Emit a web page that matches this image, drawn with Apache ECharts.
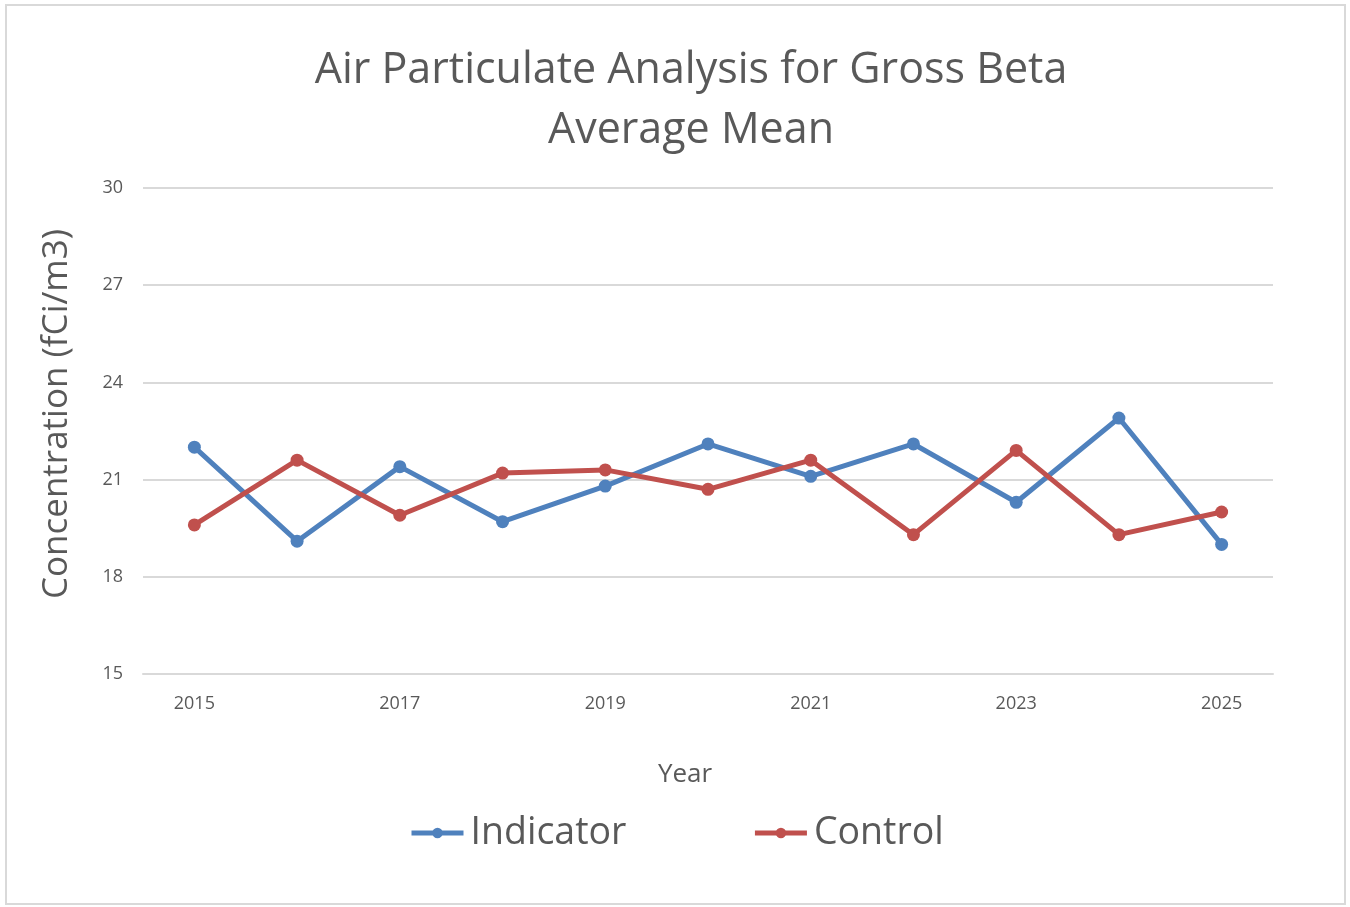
<!DOCTYPE html>
<html>
<head>
<meta charset="utf-8">
<script src="https://cdn.jsdelivr.net/npm/echarts@6/dist/echarts.min.js"></script>
<style>
  html, body { margin: 0; padding: 0; background: #fff; }
  #frame {
    position: absolute; left: 5px; top: 4px; width: 1341px; height: 901px;
    border: 2px solid #d9d9d9; box-sizing: border-box;
  }
  #chart { position: absolute; left: 0; top: 0; width: 1350px; height: 907px; }
</style>
</head>
<body>
<div id="frame"></div>
<div id="chart"></div>
<script>
const years = ['2015', '2016', '2017', '2018', '2019', '2020', '2021', '2022', '2023', '2024', '2025']
const indicator = [22.0, 19.1, 21.4, 19.7, 20.8, 22.1, 21.1, 22.1, 20.3, 22.9, 19.0]
const control = [19.6, 21.6, 19.9, 21.2, 21.3, 20.7, 21.6, 19.3, 21.9, 19.3, 20.0]

const font = '"Open Sans", "Liberation Sans", sans-serif'
const textColor = '#595959'

const chart = echarts.init(document.getElementById('chart'), null, { renderer: 'canvas' })

function lineSeries(name, data, color) {
  return {
    name,
    type: 'line',
    data,
    symbol: 'circle',
    symbolSize: 13,
    lineStyle: { color, width: 5 },
    itemStyle: { color },
    emphasis: { disabled: true },
  }
}

chart.setOption({
  backgroundColor: 'transparent',
  animation: false,
  textStyle: { fontFamily: font },
  title: {
    text: 'Air Particulate Analysis for Gross Beta\nAverage Mean',
    left: 686,
    textAlign: 'center',
    top: 36,
    textStyle: { fontFamily: font, fontSize: 43, fontWeight: 'normal', color: textColor, lineHeight: 60 },
  },
  grid: { left: 143, right: 77, top: 188, bottom: 233 },
  legend: {
    bottom: 50,
    left: 404,
    itemGap: 126,
    itemWidth: 52,
    itemHeight: 13,
    lineStyle: { width: 5 },
    textStyle: { fontFamily: font, fontSize: 37.5, color: textColor, padding: [0, 0, 0, 2] },
    data: ['Indicator', 'Control'],
  },
  xAxis: {
    type: 'category',
    data: years,
    name: 'Year',
    nameLocation: 'middle',
    nameGap: 88,
    nameTextStyle: { fontFamily: font, fontSize: 26, color: textColor, padding: [0, 46, 0, 0] },
    axisLine: { lineStyle: { color: '#d9d9d9', width: 2 } },
    axisTick: { interval: 4, length: 7, lineStyle: { color: '#d9d9d9', width: 2 } },
    axisLabel: { interval: 1, margin: 21, fontSize: 18, color: textColor },
  },
  yAxis: {
    type: 'value',
    min: 15,
    max: 30,
    interval: 3,
    name: 'Concentration (fCi/m3)',
    nameLocation: 'middle',
    nameGap: 68,
    nameTextStyle: { fontFamily: font, fontSize: 35, color: textColor, padding: [0, 0, 0, 34] },
    axisLine: { show: false },
    axisTick: { show: false },
    axisLabel: { margin: 20, fontSize: 18, color: textColor },
    splitLine: { lineStyle: { color: '#d9d9d9', width: 2 } },
  },
  series: [
    lineSeries('Indicator', indicator, '#4F81BD'),
    lineSeries('Control', control, '#C0504D'),
  ],
})
</script>
</body>
</html>
